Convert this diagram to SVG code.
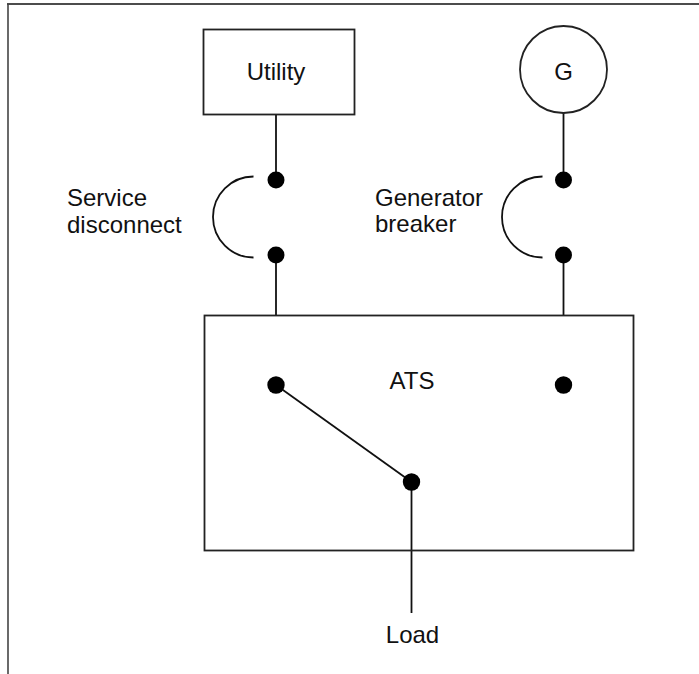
<svg xmlns="http://www.w3.org/2000/svg" width="699" height="674" viewBox="0 0 699 674">
<style>
.t{font-family:"Liberation Sans",Arial,sans-serif;font-size:24px;fill:#111}
.s{fill:none;stroke:#111;stroke-width:1.8}
.w{fill:#fff;stroke:#222;stroke-width:1.8}
.d{fill:#000}
</style>
<rect width="699" height="674" fill="#fff"/>
<g id="frame">
<line x1="7" y1="4" x2="699" y2="4" stroke="#111" stroke-width="1.6"/>
<line x1="8" y1="4" x2="8" y2="674" stroke="#444" stroke-width="1.6"/>
</g>
<g id="connectors">
<line class="s" x1="276" y1="114" x2="276" y2="180"/>
<line class="s" x1="276" y1="255" x2="276" y2="316"/>
<line class="s" x1="563.5" y1="112" x2="563.5" y2="180"/>
<line class="s" x1="563.5" y1="255" x2="563.5" y2="316"/>
<line class="s" x1="276" y1="385" x2="411.5" y2="482"/>
<line class="s" x1="411.5" y1="482" x2="411.5" y2="613"/>
</g>
<g id="utility">
<rect class="w" x="203.5" y="29.5" width="151" height="85"/>
<text class="t" x="276" y="80" text-anchor="middle">Utility</text>
</g>
<g id="generator">
<circle class="w" cx="563.5" cy="69.5" r="43.5"/>
<text class="t" x="563.5" y="80" text-anchor="middle">G</text>
</g>
<g id="service-disconnect">
<path class="s" d="M253.5 176.5 A40.5 40.5 0 0 0 253.5 257.5"/>
<circle class="d" cx="276" cy="180" r="8.5"/>
<circle class="d" cx="276" cy="255" r="8.5"/>
<text class="t" x="67" y="206">Service</text>
<text class="t" x="67" y="233">disconnect</text>
</g>
<g id="generator-breaker">
<path class="s" d="M542.5 176.5 A40.5 40.5 0 0 0 542.5 257.5"/>
<circle class="d" cx="563.5" cy="180" r="8.5"/>
<circle class="d" cx="563.5" cy="255" r="8.5"/>
<text class="t" x="375" y="205.5">Generator</text>
<text class="t" x="375" y="232">breaker</text>
</g>
<g id="ats">
<rect x="204.5" y="315.5" width="429" height="235" fill="none" stroke="#222" stroke-width="1.8"/>
<text class="t" x="412" y="388.5" text-anchor="middle">ATS</text>
<circle class="d" cx="276" cy="385" r="8.7"/>
<circle class="d" cx="563.5" cy="385" r="8.7"/>
<circle class="d" cx="411.5" cy="482" r="8.7"/>
</g>
<g id="load">
<text class="t" x="412.5" y="643.3" text-anchor="middle">Load</text>
</g>
</svg>
